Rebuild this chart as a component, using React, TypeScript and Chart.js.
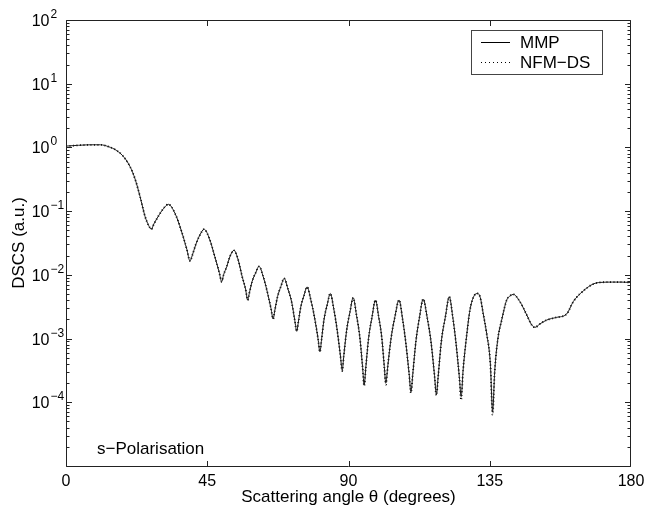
import React, { useEffect, useRef } from 'react';
import { Chart, registerables } from 'chart.js';

Chart.register(...registerables);

// Scattering angle (degrees)
const angles = [
  0, 4, 8, 11, 13.5, 16.2, 18.5, 20.4, 22, 23.6, 25.2, 26.3, 27.2,
  28.0, 29.4, 31.0, 32.6, 34.7, 36.7, 38.5, 39.5,
  40.2, 41.3, 42.65, 44.0, 45.7, 47.4, 48.8, 49.6,
  50.2, 51.2, 52.3, 53.5, 54.8, 56.1, 57.2, 57.9,
  58.4, 59.3, 60.4, 61.5, 62.85, 63.98, 65.3, 66.0,
  66.5, 67.4, 68.45, 69.5, 70.7, 71.9, 72.9, 73.5,
  74.0, 74.8, 75.8, 76.8, 78.0, 79.1, 80.3, 80.9,
  81.4, 82.2, 83.2, 84.2, 85.3, 86.3, 87.4, 88.0,
  88.5, 89.4, 90.45, 91.5, 92.55, 93.6, 94.5, 95.0,
  95.5, 96.4, 97.5, 98.6, 99.6, 100.6, 101.4, 101.9,
  102.5, 103.6, 104.8, 106.1, 107.2, 108.2, 109.3, 109.9,
  110.5, 111.5, 112.6, 113.8, 115.1, 116.3, 117.4, 118.0,
  118.6, 119.6, 120.9, 122.1, 123.2, 124.2, 125.3, 125.9,
  126.5, 127.6, 128.7, 130.0, 131.2, 132.0, 132.9, 134.0, 135.2, 135.9,
  136.6, 137.6, 138.8, 140.4, 141.5, 142.5, 144.6, 146.8, 148.4, 149.4,
  151.0, 153.1, 156.3, 159.5, 161.6, 164.8, 168.0, 170.1, 174.0, 177.0, 180.0,
];

// MMP (solid line)
const mmpValues = [
  1.05, 1.08, 1.10, 1.10, 1.03, 0.89, 0.70, 0.50, 0.32, 0.169, 0.082, 0.060, 0.052,
  0.063, 0.083, 0.109, 0.128, 0.093, 0.050, 0.0251, 0.0165,
  0.020, 0.0295, 0.0422, 0.052, 0.0369, 0.0194, 0.0110, 0.0078,
  0.0100, 0.01346, 0.01978, 0.0243, 0.01758, 0.0095, 0.00598, 0.0040,
  0.00514, 0.00788, 0.01069, 0.0136, 0.00931, 0.00578, 0.00297, 0.00203,
  0.00272, 0.00455, 0.00656, 0.0088, 0.00601, 0.00373, 0.00191, 0.0013,
  0.00179, 0.00314, 0.00469, 0.00646, 0.00405, 0.00225, 0.000993, 0.00062,
  0.000949, 0.00199, 0.00337, 0.0051, 0.00294, 0.00146, 0.000552, 0.00032,
  0.000535, 0.00134, 0.00258, 0.00437, 0.00232, 0.00106, 0.000351, 0.000187,
  0.000345, 0.00101, 0.00218, 0.00403, 0.00221, 0.00104, 0.000364, 0.0002,
  0.000364, 0.00104, 0.00221, 0.00403, 0.00207, 0.000906, 0.000284, 0.000146,
  0.000286, 0.000923, 0.00213, 0.00417, 0.00209, 0.000881, 0.000263, 0.000132,
  0.000267, 0.000923, 0.00224, 0.00454, 0.00221, 0.000895, 0.000253, 0.000123,
  0.000316, 0.00107, 0.00282, 0.00468, 0.0051, 0.00437, 0.00249, 0.00121, 0.000398, 0.000071,
  0.000316, 0.0010, 0.00195, 0.00403, 0.00468, 0.00494, 0.0038, 0.00234, 0.00163, 0.0015,
  0.0017, 0.00195, 0.00215, 0.00243, 0.0038, 0.0056, 0.0072, 0.0076, 0.0077, 0.0077, 0.0076,
];

// NFM-DS (dotted line)
const nfmValues = [
  1.05, 1.08, 1.10, 1.10, 1.03, 0.89, 0.70, 0.50, 0.32, 0.169, 0.082, 0.060, 0.052,
  0.063, 0.083, 0.109, 0.128, 0.093, 0.050, 0.0251, 0.0165,
  0.020, 0.0295, 0.0422, 0.052, 0.0369, 0.0194, 0.0110, 0.0078,
  0.0100, 0.01346, 0.01978, 0.0243, 0.01758, 0.0095, 0.00598, 0.0040,
  0.00514, 0.00788, 0.01069, 0.0136, 0.00931, 0.00578, 0.00297, 0.00203,
  0.00272, 0.00455, 0.00656, 0.0088, 0.00601, 0.00373, 0.00191, 0.0013,
  0.00179, 0.00314, 0.00469, 0.00646, 0.00405, 0.00225, 0.000993, 0.00062,
  0.000949, 0.00199, 0.00337, 0.0051, 0.00294, 0.00146, 0.000552, 0.00031,
  0.000535, 0.00134, 0.00258, 0.00437, 0.00232, 0.00106, 0.000351, 0.00018,
  0.000345, 0.00101, 0.00218, 0.00403, 0.00221, 0.00104, 0.000364, 0.00019,
  0.000364, 0.00104, 0.00221, 0.00403, 0.00207, 0.000906, 0.000284, 0.00014,
  0.000286, 0.000923, 0.00213, 0.00417, 0.00209, 0.000881, 0.000263, 0.000128,
  0.000267, 0.000923, 0.00224, 0.00454, 0.00221, 0.000895, 0.000253, 0.000108,
  0.000316, 0.00107, 0.00282, 0.00468, 0.0051, 0.00437, 0.00249, 0.00121, 0.000398, 0.000064,
  0.000316, 0.0010, 0.00195, 0.00403, 0.00468, 0.00494, 0.0038, 0.00234, 0.00163, 0.0015,
  0.0017, 0.00195, 0.00215, 0.00243, 0.0038, 0.0056, 0.0072, 0.0076, 0.0077, 0.0077, 0.0076,
];

const seriesLabels = ['MMP', 'NFM\u2212DS'];
const xTickValues = [0, 45, 90, 135, 180];
const yTickExponents = [-4, -3, -2, -1, 0, 1, 2];
const yDecades = [-5, -4, -3, -2, -1, 0, 1, 2];
const xTitle = 'Scattering angle \u03b8 (degrees)';
const yTitle = 'DSCS (a.u.)';
const noteText = 's\u2212Polarisation';

const FONT = "'Liberation Sans', Arial, Helvetica, sans-serif";

const overlay = {
  id: 'matlabOverlay',
  afterDraw(chart: any) {
    const { ctx, chartArea: a, scales } = chart;
    const xs = scales.x;
    const ys = scales.y;
    const L = Math.round(a.left) + 0.5;
    const R = Math.round(a.right) - 0.5;
    const T = Math.round(a.top) + 0.5;
    const B = Math.round(a.bottom) + 0.5;
    ctx.save();
    ctx.strokeStyle = '#222';
    ctx.lineWidth = 1;
    ctx.beginPath();
    ctx.rect(L, T, R - L, B - T);
    ctx.stroke();

    // x ticks (inward, bottom and top)
    ctx.beginPath();
    for (const v of xTickValues) {
      const px = Math.min(R, Math.round(xs.getPixelForValue(v)) + 0.5);
      ctx.moveTo(px, B);
      ctx.lineTo(px, B - 5.5);
      ctx.moveTo(px, T);
      ctx.lineTo(px, T + 5.5);
    }
    // y ticks (major and minor, left and right)
    for (const e of yDecades) {
      const py = Math.round(ys.getPixelForValue(Math.pow(10, e))) + 0.5;
      ctx.moveTo(L, py);
      ctx.lineTo(L + 5.5, py);
      ctx.moveTo(R, py);
      ctx.lineTo(R - 5.5, py);
      if (e < 2) {
        for (let m = 2; m <= 9; m++) {
          const pm = Math.round(ys.getPixelForValue(m * Math.pow(10, e))) + 0.5;
          ctx.moveTo(L, pm);
          ctx.lineTo(L + 3, pm);
          ctx.moveTo(R, pm);
          ctx.lineTo(R - 3, pm);
        }
      }
    }
    ctx.stroke();

    // x tick labels
    ctx.fillStyle = '#000';
    ctx.font = `16px ${FONT}`;
    ctx.textAlign = 'center';
    ctx.textBaseline = 'alphabetic';
    for (const v of xTickValues) {
      ctx.fillText(String(v), xs.getPixelForValue(v), 486);
    }

    // y tick labels 10^e
    for (const e of yTickExponents) {
      const py = ys.getPixelForValue(Math.pow(10, e));
      ctx.font = `16px ${FONT}`;
      ctx.textAlign = 'right';
      ctx.fillText('10', 49.5, py + 6);
      ctx.font = `12px ${FONT}`;
      ctx.textAlign = 'left';
      ctx.fillText(e < 0 ? '\u2212' + Math.abs(e) : String(e), 50.5, py - 2);
    }

    // axis titles
    ctx.font = `17px ${FONT}`;
    ctx.textAlign = 'center';
    ctx.fillText(xTitle, (a.left + a.right) / 2, 502);
    ctx.save();
    ctx.translate(24, (a.top + a.bottom) / 2);
    ctx.rotate(-Math.PI / 2);
    ctx.fillText(yTitle, 0, 0);
    ctx.restore();

    // annotation
    ctx.textAlign = 'left';
    ctx.fillText(noteText, 97, 454);

    // legend
    ctx.fillStyle = '#fff';
    ctx.fillRect(471, 30, 132, 44);
    ctx.strokeStyle = '#444';
    ctx.strokeRect(471.5, 30.5, 131, 44);
    ctx.strokeStyle = '#000';
    ctx.beginPath();
    ctx.moveTo(481, 42.5);
    ctx.lineTo(510, 42.5);
    ctx.stroke();
    ctx.setLineDash([1, 3]);
    ctx.lineWidth = 1.2;
    ctx.beginPath();
    ctx.moveTo(481, 62.5);
    ctx.lineTo(510, 62.5);
    ctx.stroke();
    ctx.setLineDash([]);
    ctx.fillStyle = '#000';
    ctx.font = `17px ${FONT}`;
    ctx.fillText(seriesLabels[0], 520, 47.5);
    ctx.fillText(seriesLabels[1], 520, 67.5);
    ctx.restore();
  },
};

export default function App() {
  const ref = useRef<HTMLCanvasElement>(null);
  useEffect(() => {
    const canvas = ref.current;
    if (!canvas) return;
    const chart = new Chart(canvas, {
      type: 'line',
      data: {
        datasets: [
          {
            label: seriesLabels[0],
            data: angles.map((a, i) => ({ x: a, y: mmpValues[i] })),
            borderColor: '#1a1a1a',
            borderWidth: 1,
            pointRadius: 0,
            cubicInterpolationMode: 'monotone',
          },
          {
            label: seriesLabels[1],
            data: angles.map((a, i) => ({ x: a, y: nfmValues[i] })),
            borderColor: '#000',
            borderWidth: 1.8,
            borderDash: [1, 2.5],
            pointRadius: 0,
            cubicInterpolationMode: 'monotone',
          },
        ],
      } as any,
      options: {
        animation: false,
        responsive: false,
        devicePixelRatio: 1,
        events: [],
        layout: { padding: { top: 20, right: 16, left: 0, bottom: 0 } },
        plugins: { legend: { display: false }, tooltip: { enabled: false } },
        scales: {
          x: {
            type: 'linear',
            min: 0,
            max: 180,
            grid: { display: false, drawTicks: false },
            border: { display: false },
            ticks: { display: false },
            afterFit: (s: any) => {
              s.height = 46;
            },
          },
          y: {
            type: 'logarithmic',
            min: 1e-5,
            max: 100,
            grid: { display: false, drawTicks: false },
            border: { display: false },
            ticks: { display: false },
            afterFit: (s: any) => {
              s.width = 66;
            },
          },
        },
      } as any,
      plugins: [overlay],
    });
    return () => chart.destroy();
  }, []);
  return (
    <div style={{ position: 'absolute', left: 0, top: 0, width: 647, height: 512, background: '#fff' }}>
      <canvas ref={ref} width={647} height={512} style={{ display: 'block' }} />
    </div>
  );
}
